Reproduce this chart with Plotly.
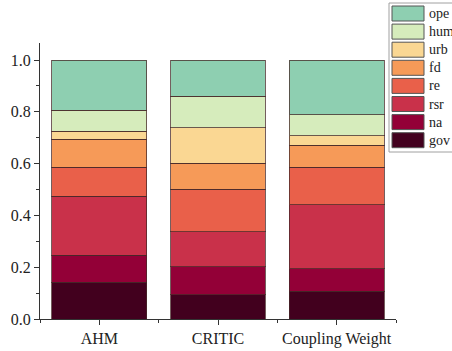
import plotly.graph_objects as go

methods = ["AHM", "CRITIC", "Coupling Weight"]
# stacking order: bottom -> top
series = ["gov", "na", "rsr", "re", "fd", "urb", "hum", "ope"]
gov = [0.141, 0.094, 0.108]
na = [0.106, 0.107, 0.086]
rsr = [0.228, 0.136, 0.247]
re = [0.111, 0.164, 0.146]
fd = [0.108, 0.101, 0.084]
urb = [0.032, 0.137, 0.036]
hum = [0.081, 0.121, 0.081]
ope = [0.193, 0.140, 0.212]
y_ticks = [0.0, 0.2, 0.4, 0.6, 0.8, 1.0]

values = {"gov": gov, "na": na, "rsr": rsr, "re": re, "fd": fd,
          "urb": urb, "hum": hum, "ope": ope}
colors = {"gov": "#42001e", "na": "#930037", "rsr": "#c9314a", "re": "#e9604a",
          "fd": "#f69a58", "urb": "#fad793", "hum": "#d6ecbc", "ope": "#8ecfb1"}

W, H = 452, 351
ML, MR, MT, MB = 40, 56, 43, 32
SERIF = "Liberation Serif, Times New Roman, serif"

fig = go.Figure()
xpos = list(range(len(methods)))
for name in series:
    fig.add_trace(go.Bar(
        x=xpos, y=values[name], name=name, width=0.8,
        marker=dict(color=colors[name], line=dict(color="rgba(70,40,40,0.75)", width=1)),
        showlegend=False,
    ))

# legend box drawn in pixel-derived paper coordinates
def px_x(v):
    return (v - ML) / (W - ML - MR)

def px_y(v):
    return 1 - (v - MT) / (H - MT - MB)

shapes = [dict(type="rect", xref="paper", yref="paper",
               x0=px_x(389), x1=px_x(460), y0=px_y(152), y1=px_y(3),
               line=dict(color="#a0a0a0", width=1), fillcolor="white", layer="above")]
annotations = []
for i, name in enumerate(reversed(series)):
    top = 6 + i * 18.1
    shapes.append(dict(type="rect", xref="paper", yref="paper",
                       x0=px_x(392), x1=px_x(424), y0=px_y(top + 15), y1=px_y(top),
                       fillcolor=colors[name], line=dict(color="#555555", width=1),
                       layer="above"))
    annotations.append(dict(xref="paper", yref="paper", x=px_x(427), y=px_y(top + 7.5),
                            text=name, showarrow=False, xanchor="left", yanchor="middle",
                            font=dict(family=SERIF, size=14, color="#222222")))

fig.update_layout(
    width=W, height=H,
    margin=dict(l=ML, r=MR, t=MT, b=MB),
    paper_bgcolor="white", plot_bgcolor="white",
    barmode="stack", bargap=0.2,
    shapes=shapes, annotations=annotations,
    font=dict(family=SERIF, size=16, color="#222222"),
    xaxis=dict(
        range=[-0.5, 2.5], tickmode="array", tickvals=xpos, ticktext=methods,
        automargin=False,
        showline=True, linecolor="#333333", linewidth=1,
        ticks="outside", ticklen=5, tickcolor="#333333", showgrid=False, zeroline=False,
        minor=dict(tickmode="array", tickvals=[-0.5, 0.5, 1.5, 2.5], ticks="outside",
                   ticklen=3, tickcolor="#333333"),
    ),
    yaxis=dict(
        range=[0, 1.066], tickmode="array", tickvals=y_ticks,
        ticktext=[f"{v:.1f}" for v in y_ticks], automargin=False,
        showline=True, linecolor="#333333", linewidth=1,
        ticks="outside", ticklen=5, tickcolor="#333333", showgrid=False, zeroline=False,
        minor=dict(tickmode="array", tickvals=[0.1, 0.3, 0.5, 0.7, 0.9], ticks="outside",
                   ticklen=3, tickcolor="#333333"),
    ),
)

fig.write_html("out.html")
